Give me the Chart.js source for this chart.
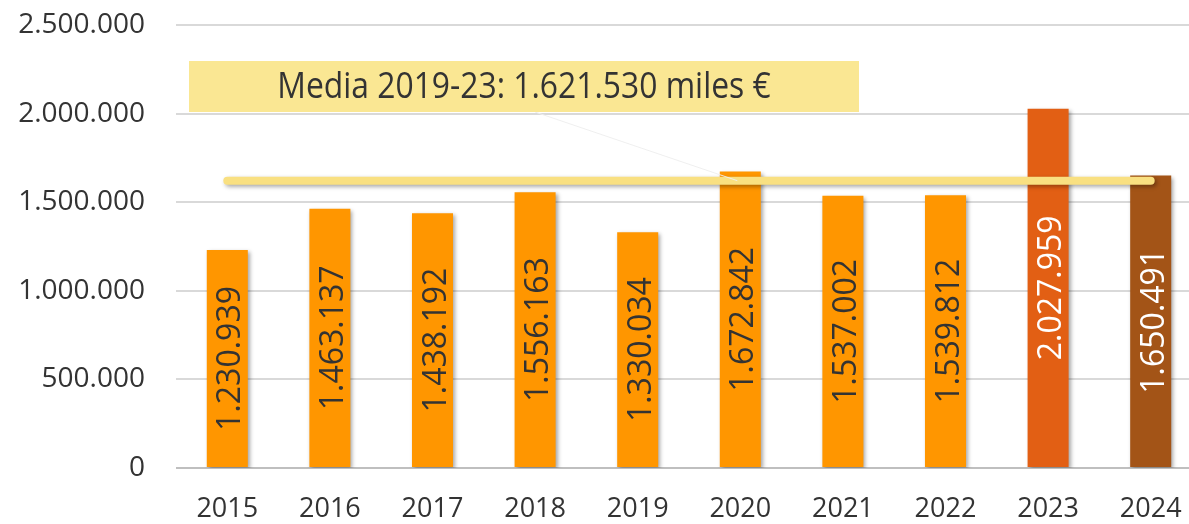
<!DOCTYPE html>
<html>
<head>
<meta charset="utf-8">
<script src="https://cdn.jsdelivr.net/npm/chart.js@4/dist/chart.umd.min.js"></script>
<style>
  html, body { margin: 0; padding: 0; background: #ffffff; overflow: hidden; }
  #wrap { position: relative; width: 1202px; height: 524px; }
</style>
</head>
<body>
<div id="wrap"><canvas id="c"></canvas></div>
<script>
// ---- data ----
const years = ['2015','2016','2017','2018','2019','2020','2021','2022','2023','2024'];
const values = [1230939, 1463137, 1438192, 1556163, 1330034, 1672842, 1537002, 1539812, 2027959, 1650491];
const mediaValue = 1621530;
const mediaLine = [1621530, 1621530, 1621530, 1621530, 1621530, 1621530, 1621530, 1621530, 1621530, 1621530];
const mediaLabel = 'Media 2019-23: 1.621.530 miles €';
const yTicks = [0, 500000, 1000000, 1500000, 2000000, 2500000];

// ---- styles ----
const barColors = ['#FF9600','#FF9600','#FF9600','#FF9600','#FF9600','#FF9600','#FF9600','#FF9600','#E25F14','#A35417'];
const labelColors = ['#333333','#333333','#333333','#333333','#333333','#333333','#333333','#333333','#FFFFFF','#FFFFFF'];
const FONT = '"Open Sans", "Noto Sans", sans-serif';

function fmt(v) {
  return String(Math.round(v)).replace(/\B(?=(\d{3})+(?!\d))/g, '.');
}

const shadowPlugin = {
  id: 'shadows',
  beforeDatasetDraw(chart, args) {
    const ctx = chart.ctx;
    ctx.save();
    ctx.shadowColor = 'rgba(0,0,0,0.35)';
    ctx.shadowBlur = 4;
    ctx.shadowOffsetX = 2;
    ctx.shadowOffsetY = 2;
  },
  afterDatasetDraw(chart) {
    chart.ctx.restore();
  }
};

const labelPlugin = {
  id: 'labels',
  afterDatasetsDraw(chart) {
    const ctx = chart.ctx;
    const meta = chart.getDatasetMeta(0);
    meta.data.forEach((bar, i) => {
      const p = bar.getProps(['x', 'y', 'base'], true);
      const cy = (p.y + p.base) / 2;
      ctx.save();
      ctx.translate(p.x, cy);
      ctx.rotate(-Math.PI / 2);
      ctx.font = '32px ' + FONT;
      ctx.textAlign = 'center';
      ctx.textBaseline = 'alphabetic';
      ctx.fillStyle = labelColors[i];
      ctx.fillText(fmt(values[i]), 0, 13);
      ctx.restore();
    });

    // annotation box + leader line
    const xs = chart.scales.x, ys = chart.scales.y;
    const boxL = 189, boxR = 859, boxT = 61, boxB = 112;
    const tx = xs.getPixelForValue(5) - 3;
    const ty = ys.getPixelForValue(mediaValue);
    ctx.save();
    ctx.strokeStyle = 'rgba(238,238,238,0.95)';
    ctx.lineWidth = 1;
    ctx.beginPath();
    ctx.moveTo(535, boxB);
    ctx.lineTo(tx, ty);
    ctx.stroke();
    ctx.fillStyle = '#FAE793';
    ctx.fillRect(boxL, boxT, boxR - boxL, boxB - boxT);
    ctx.fillStyle = '#333333';
    ctx.font = '37px ' + FONT;
    ctx.textAlign = 'center';
    ctx.textBaseline = 'middle';
    ctx.translate(524, 87);
    ctx.scale(0.86, 1);
    ctx.fillText(mediaLabel, 0, 0);
    ctx.restore();
  }
};

function build() {
  Chart.defaults.font.family = FONT;
  Chart.defaults.color = '#333333';
  new Chart(document.getElementById('c'), {
    data: {
      labels: years,
      datasets: [
        {
          type: 'bar',
          data: values,
          backgroundColor: barColors,
          borderWidth: 0,
          barPercentage: 0.4,
          categoryPercentage: 1.0,
          order: 2
        },
        {
          type: 'line',
          data: mediaLine,
          borderColor: '#F9E081',
          borderWidth: 8,
          borderCapStyle: 'round',
          pointRadius: 0,
          fill: false,
          order: 1
        }
      ]
    },
    options: {
      responsive: true,
      maintainAspectRatio: false,
      animation: false,
      layout: { padding: { top: 25, right: 0, bottom: 0, left: 0 } },
      plugins: { legend: { display: false }, tooltip: { enabled: false } },
      scales: {
        x: {
          grid: { display: false, drawTicks: false },
          border: { display: false },
          ticks: { font: { size: 27 }, color: '#333333', padding: 25, maxRotation: 0 },
          afterFit(s) { s.height = 56; s.paddingLeft = 0; s.paddingRight = 0; }
        },
        y: {
          min: 0,
          max: 2500000,
          afterBuildTicks(s) { s.ticks = yTicks.map(v => ({ value: v })); },
          grid: {
            drawTicks: false,
            color: c => (c.tick && c.tick.value === 0) ? '#BFBFBF' : '#D9D9D9',
            lineWidth: 2
          },
          border: { display: false },
          ticks: {
            font: { size: 28 },
            color: '#333333',
            padding: 31,
            callback: v => fmt(v)
          },
          afterFit(s) { s.width = 176; s.paddingTop = 0; s.paddingBottom = 0; }
        }
      }
    },
    plugins: [shadowPlugin, labelPlugin]
  });
}

if (document.fonts && document.fonts.load) {
  Promise.all([document.fonts.load('28px "Open Sans"'), document.fonts.load('37px "Open Sans"')])
    .then(build, build);
} else {
  build();
}
</script>
</body>
</html>
